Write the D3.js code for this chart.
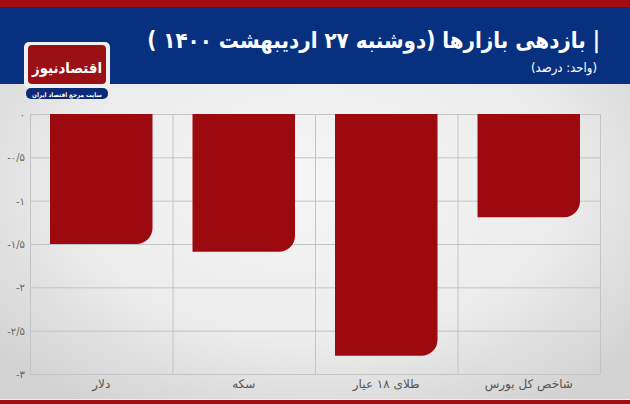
<!DOCTYPE html>
<html><head><meta charset="utf-8">
<script src="https://cdn.jsdelivr.net/npm/d3@7/dist/d3.min.js"></script>
<style>
html,body{margin:0;padding:0;background:#fff;}
svg{display:block;}
</style></head>
<body>
<svg id="c" width="630" height="404"></svg>
<script>
const categories = ["دلار", "سکه", "طلای ۱۸ عیار", "شاخص کل بورس"];
const values = [-1.5, -1.59, -2.79, -1.19];
const tickValues = [0, -0.5, -1, -1.5, -2, -2.5, -3];
const tickLabels = ["۰", "-۰/۵", "-۱", "-۱/۵", "-۲", "-۲/۵", "-۳"];
const titleText = "| بازدهی بازارها (دوشنبه ۲۷ اردیبهشت ۱۴۰۰ )";
const subtitleText = "(واحد: درصد)";

const W = 630, H = 404;
const svg = d3.select("#c");
const defs = svg.append("defs");
const rg = defs.append("radialGradient").attr("id","bg").attr("cx","50%").attr("cy","45%").attr("r","65%");
rg.append("stop").attr("offset","0%").attr("stop-color","#f6f6f6");
rg.append("stop").attr("offset","60%").attr("stop-color","#ececec");
rg.append("stop").attr("offset","100%").attr("stop-color","#d3d3d3");

function fit(sel, maxW, size) {
  let s = size;
  sel.attr("font-size", s);
  let w = sel.node().getComputedTextLength();
  if (w > maxW) { s = s * maxW / w; sel.attr("font-size", s); }
  return sel;
}

// background
svg.append("rect").attr("x",0).attr("y",0).attr("width",W).attr("height",H).attr("fill","url(#bg)");
// header
svg.append("rect").attr("x",0).attr("y",0).attr("width",W).attr("height",7).attr("fill","#a10d12");
svg.append("rect").attr("x",0).attr("y",7).attr("width",W).attr("height",77).attr("fill","#07307f");
// bottom strip
svg.append("rect").attr("x",0).attr("y",399).attr("width",W).attr("height",1).attr("fill","#f2f2f2");
svg.append("rect").attr("x",0).attr("y",400).attr("width",W).attr("height",4).attr("fill","#a10d12");

// title
const title = svg.append("text").attr("x",600).attr("y",48).attr("direction","rtl").attr("text-anchor","start")
  .attr("font-family","DejaVu Sans Condensed, DejaVu Sans, sans-serif").attr("font-weight","bold")
  .attr("fill","#fff").text(titleText);
fit(title, 453, 24);
const sub = svg.append("text").attr("x",597).attr("y",72).attr("direction","rtl").attr("text-anchor","start")
  .attr("font-family","DejaVu Sans Condensed, DejaVu Sans, sans-serif")
  .attr("fill","#fff").text(subtitleText);
fit(sub, 75, 13);

// logo
const lg = svg.append("g");
lg.append("rect").attr("x",24).attr("y",42).attr("width",86).attr("height",46).attr("rx",5).attr("fill","#f0f0f0");
lg.append("rect").attr("x",28).attr("y",45).attr("width",78).attr("height",39).attr("rx",4).attr("fill","#9a1014");
const lt = lg.append("text").attr("x",67).attr("y",73).attr("text-anchor","middle").attr("direction","rtl")
  .attr("font-family","DejaVu Sans Condensed, DejaVu Sans, sans-serif").attr("font-weight","bold")
  .attr("fill","#fff").text("اقتصادنیوز");
fit(lt, 70, 20);
lg.append("rect").attr("x",26).attr("y",88).attr("width",82).attr("height",11).attr("rx",5).attr("fill","#0b2a78");
const lt2 = lg.append("text").attr("x",67).attr("y",96.5).attr("text-anchor","middle").attr("direction","rtl")
  .attr("font-family","DejaVu Sans Condensed, DejaVu Sans, sans-serif").attr("font-weight","bold")
  .attr("fill","#fff").text("سایت مرجع اقتصاد ایران");
fit(lt2, 70, 7.5);

// plot
const x0 = 30, x1 = 600, yTop = 114, yBot = 374;
const x = d3.scaleBand().domain(categories).range([x0, x1]).paddingInner(0).paddingOuter(0);
const y = d3.scaleLinear().domain([0, -3]).range([yTop, yBot]);
const barPad = 20;

const g = svg.append("g");
g.selectAll("line.h").data(tickValues).enter().append("line")
  .attr("x1", x0).attr("x2", x1).attr("y1", d=>y(d)+0.5).attr("y2", d=>y(d)+0.5)
  .attr("stroke","#c4c4c4").attr("stroke-width",1);
const vlines = categories.map(c=>x(c)).concat([x1]);
g.selectAll("line.v").data(vlines).enter().append("line")
  .attr("x1", d=>d+0.5).attr("x2", d=>d+0.5).attr("y1", yTop).attr("y2", yBot)
  .attr("stroke","#c4c4c4").attr("stroke-width",1);

const r = 16;
g.selectAll("path.bar").data(categories.map((c,i)=>({c, v: values[i]}))).enter().append("path")
  .attr("fill","#9c0a0f")
  .attr("d", d=>{
    const bx0 = x(d.c) + barPad, bx1 = x(d.c) + x.bandwidth() - barPad;
    const t = y(0), b = y(d.v);
    const rr = Math.min(r, b - t);
    return `M${bx0},${t}H${bx1}V${b-rr}A${rr},${rr} 0 0 1 ${bx1-rr},${b}H${bx0}Z`;
  });

g.selectAll("text.yt").data(tickValues).enter().append("text")
  .attr("x", 25).attr("y", d=>y(d)+4).attr("text-anchor","end").attr("direction","ltr")
  .attr("font-family","DejaVu Sans, sans-serif").attr("font-size",10).attr("fill","#666")
  .text((d,i)=>tickLabels[i]);

g.selectAll("text.xl").data(categories).enter().append("text")
  .attr("x", d=>x(d)+x.bandwidth()/2).attr("y", 388).attr("text-anchor","middle").attr("direction","rtl")
  .attr("font-family","DejaVu Sans, sans-serif").attr("font-size",12).attr("fill","#555")
  .text(d=>d);
</script>
</body></html>
